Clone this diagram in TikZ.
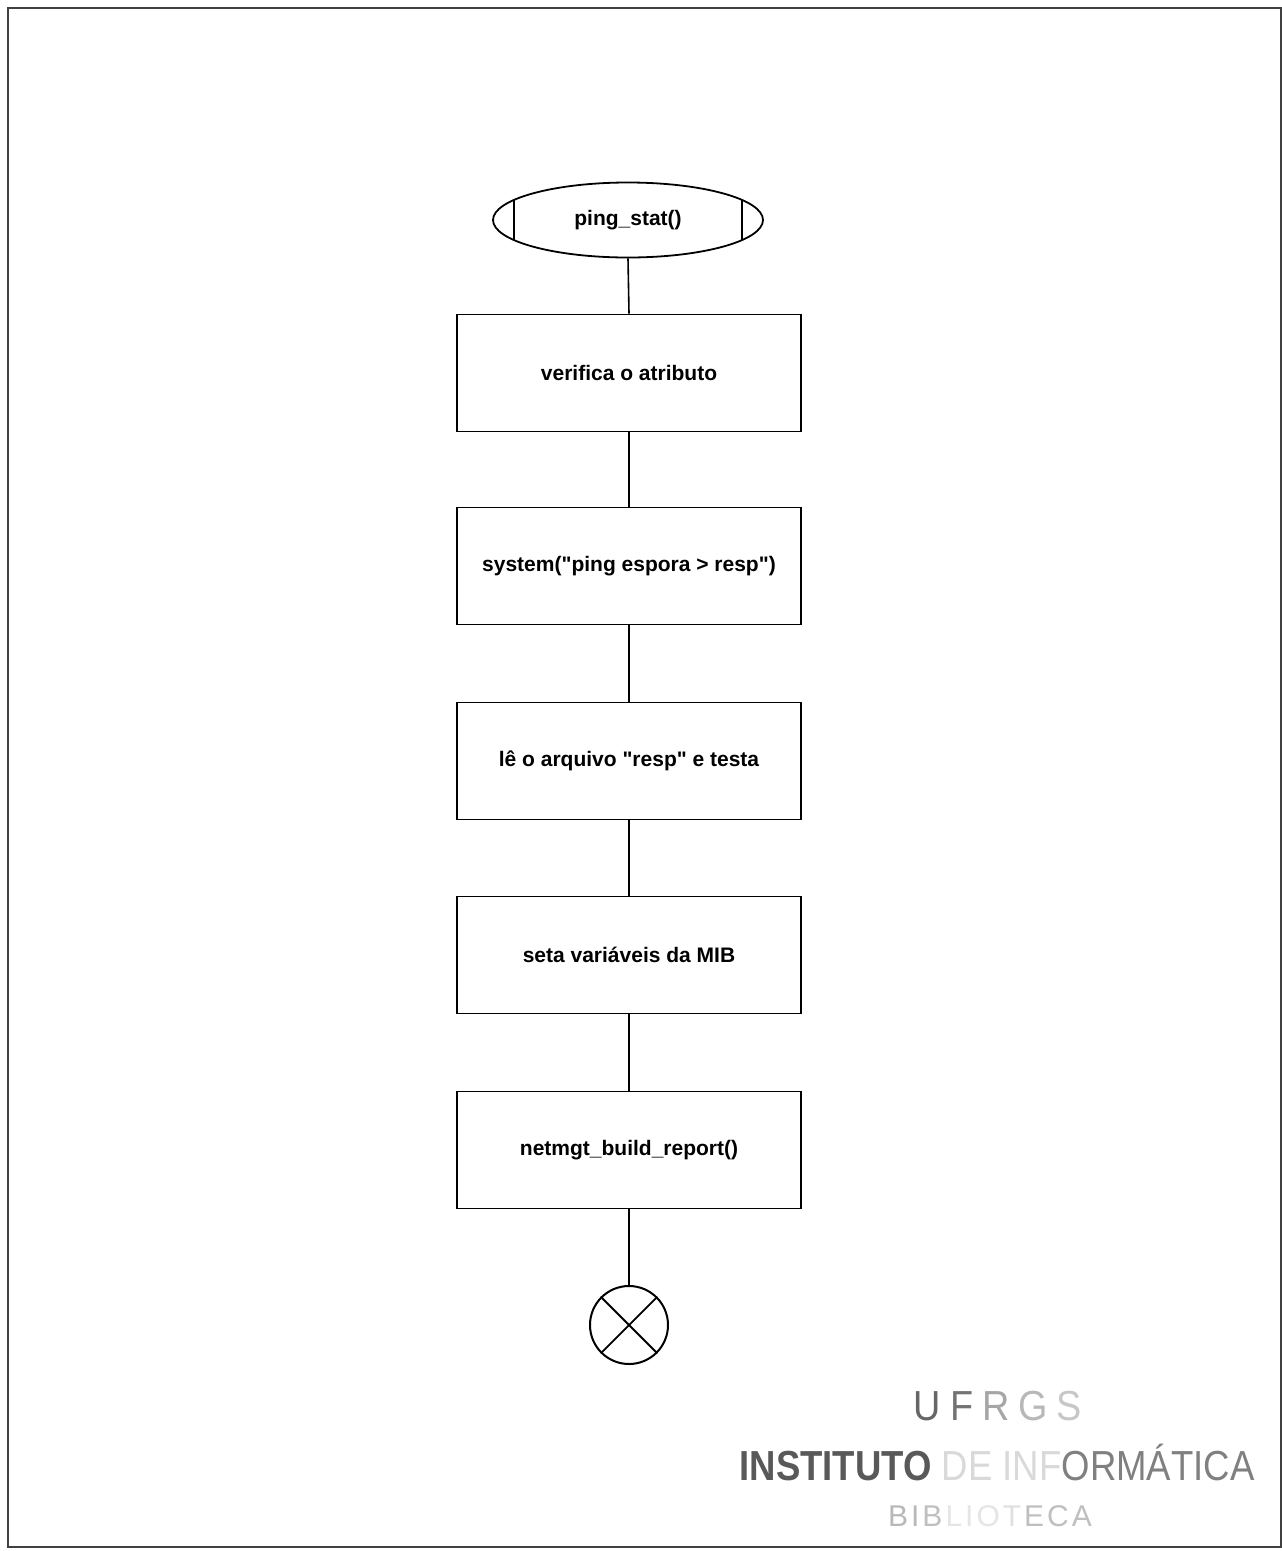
\documentclass[tikz,border=0pt]{standalone}
\usepackage{fontspec}
% plain straight quotes: no TeX ligature mapping
\setmainfont{Liberation Sans}[Ligatures=TeXOff]
\usetikzlibrary{shapes.geometric,calc}
\begin{document}
\begin{tikzpicture}[x=1pt,y=-1pt,
  stepbox/.style={draw=black,line width=1.8pt,rectangle,minimum width=344pt,minimum height=117pt,inner sep=0pt,
    font=\fontsize{21}{25}\selectfont\bfseries},
  termnode/.style={draw=black,line width=1.8pt,ellipse,minimum width=270pt,minimum height=75pt,inner sep=0pt,
    font=\fontsize{21}{25}\selectfont\bfseries},
  endnode/.style={draw=black,line width=2pt,circle,minimum size=78pt,inner sep=0pt},
  flow/.style={draw=black,line width=1.6pt}]
\useasboundingbox (0,0) rectangle (1282,1551);
% page frame
\draw[line width=2.5pt,black!75] (8,8) rectangle (1281,1547);

% flow chart
\node[termnode] (start) at (628,220) {ping\_stat()};
\draw[line width=1.6pt] ($(start.center)+(-114,-20.1)$) -- ($(start.center)+(-114,20.1)$);
\draw[line width=1.6pt] ($(start.center)+(114,-20.1)$) -- ($(start.center)+(114,20.1)$);

\node[stepbox] (b1) at (629,373) {verifica o atributo};
\node[stepbox] (b2) at (629,566) {system("ping espora > resp")};
\node[stepbox] (b3) at (629,761) {lê o arquivo "resp" e testa};
\node[stepbox] (b4) at (629,955) {seta variáveis da MIB};
\node[stepbox] (b5) at (629,1150) {netmgt\_build\_report()};
\node[endnode] (stop) at (629,1325) {};
\draw[line width=1.8pt] (stop.135) -- (stop.-45);
\draw[line width=1.8pt] (stop.45) -- (stop.-135);

\draw[flow] (start.south) -- (b1.north);
\draw[flow] (b1.south) -- (b2.north);
\draw[flow] (b2.south) -- (b3.north);
\draw[flow] (b3.south) -- (b4.north);
\draw[flow] (b4.south) -- (b5.north);
\draw[flow] (b5.south) -- (stop.north);

% library stamp
\node[inner sep=0pt,font=\fontsize{42}{42}\selectfont] (ufrgs) at (998,1406)
  {\scalebox{0.9}[1]{\textcolor{black!60}{U}\hspace{10pt}\textcolor{black!55}{F}\hspace{10pt}\textcolor{black!35}{R}\hspace{10pt}\textcolor{black!28}{G}\hspace{10pt}\textcolor{black!22}{S}}};
\node[inner sep=0pt,font=\fontsize{42}{42}\selectfont] (inst) at (997,1462)
  {\scalebox{0.87}[1]{\textcolor{black!65}{\bfseries INSTITUTO}\ \textcolor{black!15}{DE INF}\textcolor{black!50}{ORMÁTICA}}};
\node[inner sep=0pt,font=\fontsize{30}{30}\selectfont] (bib) at (990,1516)
  {\textcolor{black!28}{B}\hspace{3pt}\textcolor{black!28}{I}\hspace{3pt}\textcolor{black!25}{B}\hspace{3pt}\textcolor{black!10}{L}\hspace{3pt}\textcolor{black!10}{I}\hspace{3pt}\textcolor{black!10}{O}\hspace{3pt}\textcolor{black!12}{T}\hspace{3pt}\textcolor{black!25}{E}\hspace{3pt}\textcolor{black!25}{C}\hspace{3pt}\textcolor{black!25}{A}};
\end{tikzpicture}
\end{document}
